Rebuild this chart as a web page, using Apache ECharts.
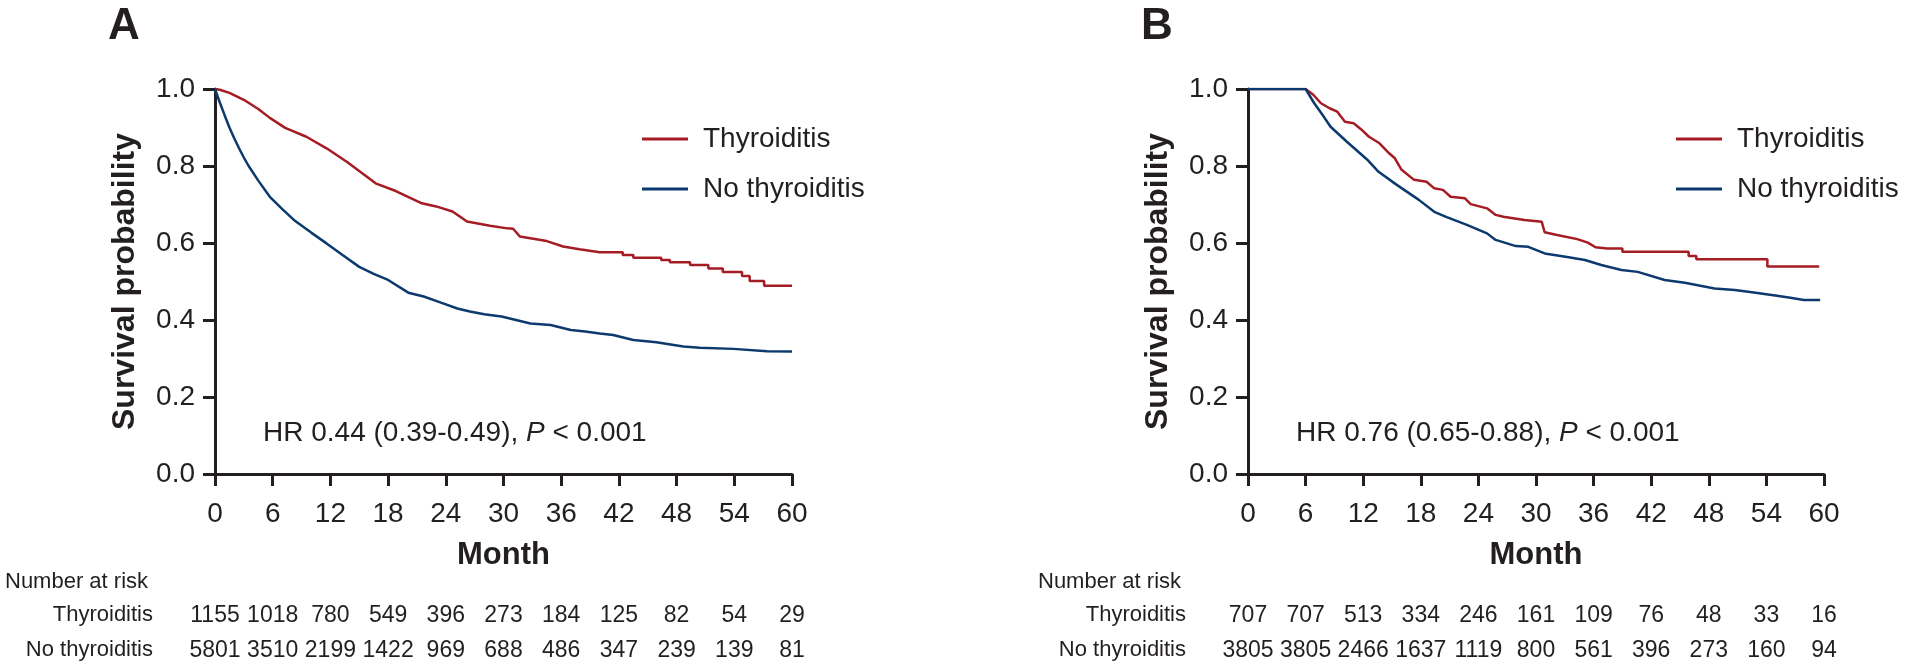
<!DOCTYPE html>
<html>
<head>
<meta charset="utf-8">
<script src="https://cdn.jsdelivr.net/npm/echarts@6/dist/echarts.min.js"></script>
<style>
html,body{margin:0;padding:0;background:#fff;}
#chart{width:1920px;height:670px;}
</style>
</head>
<body>
<div id="chart"></div>
<script>
// ---- Data ----
const monthTicks = [0, 6, 12, 18, 24, 30, 36, 42, 48, 54, 60];
const yTicks = [0, 0.2, 0.4, 0.6, 0.8, 1.0];

const riskA_thy = [1155, 1018, 780, 549, 396, 273, 184, 125, 82, 54, 29];
const riskA_no  = [5801, 3510, 2199, 1422, 969, 688, 486, 347, 239, 139, 81];
const riskB_thy = [707, 707, 513, 334, 246, 161, 109, 76, 48, 33, 16];
const riskB_no  = [3805, 3805, 2466, 1637, 1119, 800, 561, 396, 273, 160, 94];

// Kaplan-Meier curves [month, survival]
const curveA_thy = [[0,1.0],[0.5,0.998],[1.5,0.99],[3,0.972],[4.5,0.948],[5.7,0.925],[7.3,0.899],[9.5,0.876],[11.6,0.846],[13.7,0.811],[15.8,0.772],[16.7,0.755],[18.8,0.735],[21.4,0.704],[23,0.695],[24.7,0.682],[26.2,0.656],[28.6,0.645],[30.4,0.638],[31,0.637],[31.7,0.617],[34.5,0.605],[36.2,0.591],[37.9,0.584],[40,0.576],[42.4,0.576],[42.4,0.569],[43.5,0.569],[43.5,0.562],[46.4,0.562],[46.4,0.556],[47.3,0.556],[47.3,0.55],[49.4,0.55],[49.4,0.543],[51.3,0.543],[51.3,0.534],[52.8,0.534],[52.8,0.525],[54.8,0.525],[54.8,0.514],[55.6,0.514],[55.6,0.501],[57.1,0.501],[57.1,0.489],[60,0.489]];
const curveA_no = [[0,1],[0.5,0.965],[1,0.932],[1.5,0.9],[2,0.872],[2.5,0.846],[3,0.822],[3.5,0.8],[4.5,0.762],[5.7,0.72],[7,0.688],[8.2,0.66],[10,0.627],[11.6,0.599],[13.3,0.568],[15,0.538],[16.5,0.52],[18,0.504],[20.1,0.471],[21.7,0.461],[23.5,0.445],[25.2,0.43],[26.5,0.422],[28,0.415],[29.8,0.409],[31.3,0.4],[32.8,0.391],[34.9,0.387],[37,0.374],[38.5,0.37],[40,0.365],[41.4,0.361],[43.5,0.348],[45.9,0.342],[48.7,0.331],[50.4,0.328],[53.9,0.325],[57.4,0.319],[60,0.318]];
const curveB_thy = [[0,1],[6,1],[6.8,0.985],[7.6,0.963],[8.5,0.95],[9.3,0.941],[10.1,0.915],[11,0.911],[11.8,0.895],[12.6,0.876],[13.7,0.859],[14.7,0.833],[15.3,0.82],[16,0.79],[17.3,0.764],[18.6,0.759],[19.4,0.742],[20.3,0.738],[21.1,0.72],[22.6,0.716],[23.2,0.701],[24.9,0.69],[25.8,0.673],[26.6,0.668],[28.8,0.66],[30.6,0.655],[30.9,0.628],[32.2,0.621],[34.3,0.61],[35.4,0.601],[36.2,0.589],[37.4,0.586],[39,0.586],[39,0.577],[45.9,0.577],[45.9,0.566],[46.7,0.566],[46.7,0.558],[54.1,0.558],[54.1,0.539],[59.5,0.539]];
const curveB_no = [[0,1],[6,1],[6.9,0.963],[7.7,0.935],[8.6,0.902],[10.3,0.863],[12.4,0.817],[13.6,0.785],[15.5,0.751],[17.8,0.712],[19.4,0.681],[20.7,0.667],[22.8,0.647],[24.9,0.625],[25.8,0.608],[27.9,0.592],[29.2,0.59],[30.9,0.573],[33.4,0.563],[35.1,0.556],[36.8,0.543],[38.9,0.53],[40.6,0.525],[43.4,0.504],[45.5,0.497],[48.6,0.482],[50.7,0.478],[52.5,0.472],[55.1,0.463],[56.5,0.458],[57.9,0.452],[59.6,0.452]];

const panelLabels = ['A', 'B'];
const hrTexts = [['HR 0.44 (0.39-0.49), ', 'P', ' < 0.001'], ['HR 0.76 (0.65-0.88), ', 'P', ' < 0.001']];
const groupNames = ['Thyroiditis', 'No thyroiditis'];

// ---- Style ----
const FONT = '"Liberation Sans", Arial, Helvetica, sans-serif';
const INK = '#231f20';
const RED = '#a51c24';
const NAVY = '#0d3a6e';

const grids = [
  {left: 215, top: 89, width: 577, height: 385},
  {left: 1248, top: 89, width: 576, height: 385}
];

function mainX(gi) {
  return {
    type: 'value', gridIndex: gi, min: 0, max: 60, interval: 6,
    name: 'Month', nameLocation: 'middle', nameGap: 66,
    nameTextStyle: {fontFamily: FONT, fontWeight: 'bold', fontSize: 31, color: INK},
    axisLine: {show: true, onZero: false, lineStyle: {color: INK, width: 3}},
    axisTick: {show: true, length: 12, lineStyle: {color: INK, width: 3}},
    axisLabel: {fontFamily: FONT, fontSize: 28, color: INK, margin: 26},
    splitLine: {show: false}
  };
}
function riskX(gi, arr, offset) {
  return {
    type: 'value', gridIndex: gi, min: 0, max: 60, interval: 6, position: 'bottom', offset: offset,
    axisLine: {show: false}, axisTick: {show: false}, splitLine: {show: false},
    axisLabel: {fontFamily: FONT, fontSize: 23, color: INK, margin: 2,
      formatter: v => { const i = monthTicks.indexOf(v); return i >= 0 ? String(arr[i]) : ''; }}
  };
}
function mainY(gi) {
  return {
    type: 'value', gridIndex: gi, min: 0, max: 1, interval: 0.2,
    name: 'Survival probability', nameLocation: 'middle', nameGap: 74,
    nameTextStyle: {fontFamily: FONT, fontWeight: 'bold', fontSize: 32, color: INK},
    axisLine: {show: true, onZero: false, lineStyle: {color: INK, width: 3}},
    axisTick: {show: true, length: 12, lineStyle: {color: INK, width: 3}},
    axisLabel: {fontFamily: FONT, fontSize: 28, color: INK, margin: 20, formatter: v => v.toFixed(1)},
    splitLine: {show: false}
  };
}
function line(name, xi, yi, data, color) {
  return {
    name: name, type: 'line', xAxisIndex: xi, yAxisIndex: yi, data: data,
    showSymbol: false, symbol: 'none', smooth: false, animation: false,
    lineStyle: {color: color, width: 2.5}, itemStyle: {color: color}
  };
}
function legend(left) {
  return {
    left: left, top: 120, orient: 'vertical', itemGap: 22,
    icon: 'rect', itemWidth: 46, itemHeight: 3,
    data: groupNames,
    textStyle: {fontFamily: FONT, fontSize: 28, color: INK, padding: [0, 0, 0, 10]},
    selectedMode: false
  };
}

const graphics = [];
const gridLefts = [grids[0].left, grids[1].left];
panelLabels.forEach((lab, i) => {
  const gl = gridLefts[i];
  graphics.push({type: 'text', left: gl - 92 - 15, top: 5,
    style: {text: lab, font: 'bold 44px ' + FONT, fill: INK}});
  graphics.push({type: 'text', x: gl + 48, y: 433,
    style: {
      text: '{a|' + hrTexts[i][0] + '}{b|' + hrTexts[i][1] + '}{a|' + hrTexts[i][2] + '}',
      verticalAlign: 'middle',
      rich: {
        a: {fontFamily: FONT, fontSize: 28, fill: INK},
        b: {fontFamily: FONT, fontSize: 28, fontStyle: 'italic', fill: INK}
      }
    }});
  graphics.push({type: 'text', x: gl - 210, y: 582,
    style: {text: 'Number at risk', fontFamily: FONT, fontSize: 22, fill: INK, verticalAlign: 'middle'}});
  graphics.push({type: 'text', x: gl - 62, y: 615,
    style: {text: groupNames[0], fontFamily: FONT, fontSize: 22, fill: INK, align: 'right', verticalAlign: 'middle'}});
  graphics.push({type: 'text', x: gl - 62, y: 650,
    style: {text: groupNames[1], fontFamily: FONT, fontSize: 22, fill: INK, align: 'right', verticalAlign: 'middle'}});
});

const chart = echarts.init(document.getElementById('chart'), null, {renderer: 'canvas'});
chart.setOption({
  backgroundColor: '#ffffff',
  animation: false,
  grid: grids,
  xAxis: [mainX(0), mainX(1), riskX(0, riskA_thy, 128), riskX(0, riskA_no, 163), riskX(1, riskB_thy, 128), riskX(1, riskB_no, 163)],
  yAxis: [mainY(0), mainY(1)],
  legend: [legend(637), legend(1671)],
  series: [
    line(groupNames[0], 0, 0, curveA_thy, RED),
    line(groupNames[1], 0, 0, curveA_no, NAVY),
    line(groupNames[0], 1, 1, curveB_thy, RED),
    line(groupNames[1], 1, 1, curveB_no, NAVY)
  ],
  graphic: graphics
});
</script>
</body>
</html>
